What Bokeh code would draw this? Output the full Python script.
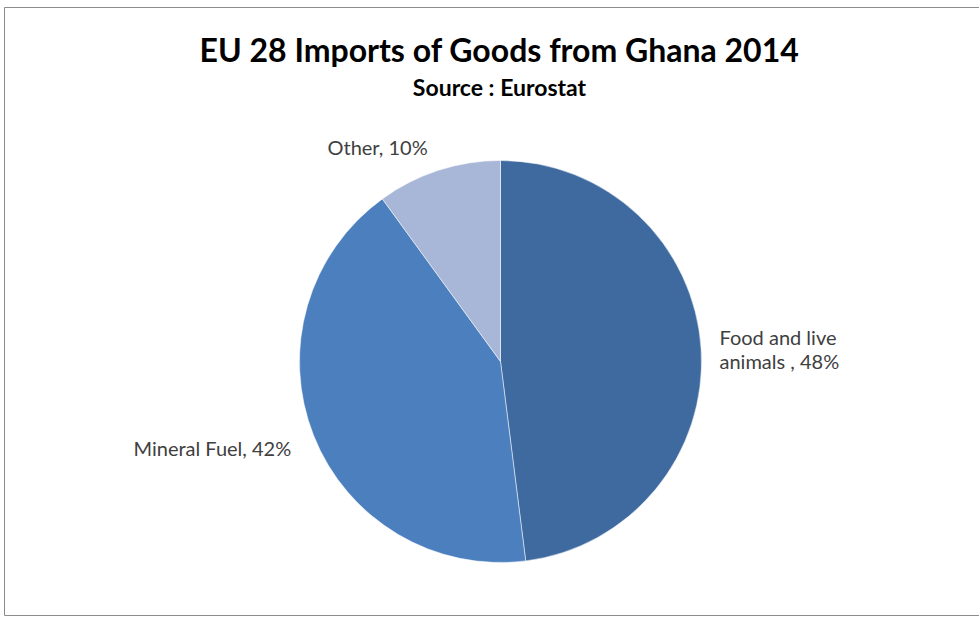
from math import pi
from bokeh.plotting import figure
from bokeh.models import Range1d, ColumnDataSource
from bokeh.core.properties import value
from bokeh.embed import file_html
from bokeh.resources import INLINE

categories = ["Food and live animals ", "Mineral Fuel", "Other"]
shares = [48, 42, 10]
colors = ["#3e6aa0", "#4c7fbe", "#a8b7d7"]
label_lines = [["Food and live", "animals , 48%"], ["Mineral Fuel, 42%"], ["Other, 10%"]]

W, H = 979, 617
p = figure(width=W, height=H, output_backend="svg", toolbar_location=None,
           x_range=Range1d(0, W), y_range=Range1d(H, 0), min_border=0)
p.axis.visible = False
p.grid.visible = False
p.outline_line_color = None
p.background_fill_color = "white"
p.border_fill_color = "white"

# chart frame
p.quad(left=[4], right=[985], top=[7], bottom=[615], fill_color=None,
       line_color="#8c8c8c", line_width=1)

cx, cy, r = 500, 361, 201
total = sum(shares)
starts, ends = [], []
acc = 0
for s in shares:
    a0 = pi / 2 - 2 * pi * acc / total
    acc += s
    a1 = pi / 2 - 2 * pi * acc / total
    starts.append(a1)
    ends.append(a0)
src = ColumnDataSource(dict(x=[cx] * 3, y=[cy] * 3, start=starts, end=ends, color=colors, cat=categories))
p.wedge(x="x", y="y", radius=r, start_angle="start", end_angle="end",
        fill_color="color", line_color="white", line_width=0.5, source=src)

font = value("Lato")
# title
p.text(x=[499], y=[49], text=["EU 28 Imports of Goods from Ghana 2014"], text_font=font,
       text_font_size="32px", text_font_style="bold", text_align="center",
       text_baseline="middle", text_color="#000000")
p.text(x=[499], y=[86], text=["Source : Eurostat"], text_font=font,
       text_font_size="23px", text_font_style="bold", text_align="center",
       text_baseline="middle", text_color="#000000")

# labels
lx = [719, 133, 327]
ly = [[336, 360], [447], [146]]
for i in range(3):
    for j, line in enumerate(label_lines[i]):
        p.text(x=[lx[i]], y=[ly[i][j]], text=[line], text_font=font,
               text_font_size="20px", text_align="left", text_baseline="middle",
               text_color="#404040")

open("out.html", "w").write(file_html(p, INLINE))
